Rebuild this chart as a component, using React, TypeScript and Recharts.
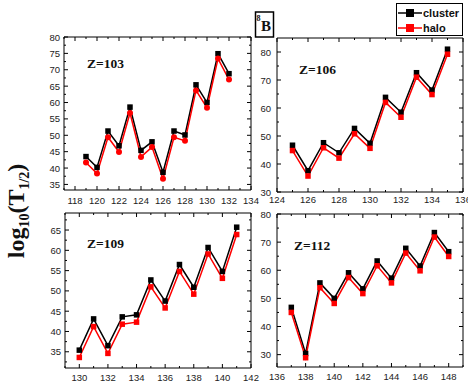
import React from 'react'
import { LineChart, Line, XAxis, YAxis, Legend } from 'recharts'

// neutron number A-Z per panel, log10(T1/2) for cluster and halo models
const nZ103 = [119, 120, 121, 122, 123, 124, 125, 126, 127, 128, 129, 130, 131, 132]
const clusterZ103 = [43.5, 40.2, 51.3, 46.8, 58.6, 45.4, 48.0, 38.7, 51.3, 50.1, 65.4, 60.0, 74.9, 68.8]
const haloZ103 = [41.7, 38.3, 49.4, 44.9, 56.8, 43.4, 46.4, 36.7, 49.4, 48.3, 63.7, 58.4, 73.4, 67.0]

const nZ106 = [125, 126, 127, 128, 129, 130, 131, 132, 133, 134, 135]
const clusterZ106 = [46.7, 37.6, 47.6, 44.0, 52.7, 47.4, 63.8, 58.5, 72.6, 66.4, 81.0]
const haloZ106 = [44.8, 35.7, 45.8, 42.1, 50.8, 45.6, 62.0, 56.7, 71.0, 64.8, 79.2]

const nZ109 = [130, 131, 132, 133, 134, 135, 136, 137, 138, 139, 140, 141]
const clusterZ109 = [35.4, 43.1, 36.5, 43.6, 44.1, 52.7, 47.5, 56.5, 50.9, 60.7, 54.8, 65.7]
const haloZ109 = [33.6, 41.2, 34.6, 41.8, 42.3, 51.0, 45.8, 54.8, 49.2, 59.1, 53.1, 63.9]

const nZ112 = [137, 138, 139, 140, 141, 142, 143, 144, 145, 146, 147, 148]
const clusterZ112 = [46.8, 30.4, 55.5, 50.0, 59.1, 53.4, 63.3, 57.2, 67.8, 61.5, 73.4, 66.6]
const haloZ112 = [45.0, 28.9, 53.8, 48.2, 57.4, 51.7, 61.6, 55.5, 66.1, 59.8, 71.8, 64.9]

// ticks
const xTicks103 = [117, 118, 119, 120, 121, 122, 123, 124, 125, 126, 127, 128, 129, 130, 131, 132, 133, 134]
const xLabels103 = [118, 120, 122, 124, 126, 128, 130, 132, 134]
const yTicks103 = [35, 37.5, 40, 42.5, 45, 47.5, 50, 52.5, 55, 57.5, 60, 62.5, 65, 67.5, 70, 72.5, 75, 77.5, 80]
const yLabels103 = [35, 40, 45, 50, 55, 60, 65, 70, 75, 80]

const xTicks106 = [124, 125, 126, 127, 128, 129, 130, 131, 132, 133, 134, 135, 136]
const xLabels106 = [124, 126, 128, 130, 132, 134, 136]
const yTicks106 = [30, 35, 40, 45, 50, 55, 60, 65, 70, 75, 80]
const yLabels106 = [30, 40, 50, 60, 70, 80]

const xTicks109 = [129, 130, 131, 132, 133, 134, 135, 136, 137, 138, 139, 140, 141, 142]
const xLabels109 = [130, 132, 134, 136, 138, 140, 142]
const yTicks109 = [32.5, 35, 37.5, 40, 42.5, 45, 47.5, 50, 52.5, 55, 57.5, 60, 62.5, 65, 67.5]
const yLabels109 = [35, 40, 45, 50, 55, 60, 65]

const xTicks112 = [136, 137, 138, 139, 140, 141, 142, 143, 144, 145, 146, 147, 148, 149]
const xLabels112 = [136, 138, 140, 142, 144, 146, 148]
const yTicks112 = [30, 35, 40, 45, 50, 55, 60, 65, 70, 75, 80]
const yLabels112 = [30, 40, 50, 60, 70, 80]

const W = 468
const H = 387

const tickFont = {
  fontFamily: '"Liberation Sans", Arial, sans-serif',
  fontSize: 9.5,
  fill: '#222',
}

const has = (list: number[], v: number) => list.some(t => Math.abs(t - v) < 1e-6)

function makeTick(side: 'bottom' | 'top' | 'left' | 'right', labels: number[], gap: number) {
  return (props: any) => {
    const { x, y, payload } = props
    const major = has(labels, payload.value)
    const len = major ? 4 : 2
    let line
    if (side === 'bottom') line = <line x1={x} x2={x} y1={y} y2={y - len} stroke="#000" />
    else if (side === 'top') line = <line x1={x} x2={x} y1={y} y2={y + len} stroke="#000" />
    else if (side === 'left') line = <line x1={x} x2={x + len} y1={y} y2={y} stroke="#000" />
    else line = <line x1={x} x2={x - len} y1={y} y2={y} stroke="#000" />
    return (
      <g>
        {line}
        {major && side === 'bottom' && (
          <text x={x} y={y + gap} textAnchor="middle" dominantBaseline="central" {...tickFont}>{payload.value}</text>
        )}
        {major && side === 'left' && (
          <text x={x - gap} y={y} textAnchor="end" dominantBaseline="central" {...tickFont}>{payload.value}</text>
        )}
      </g>
    )
  }
}

const squareDot = (color: string, s: number) => (props: any) => (
  <rect key={`sq-${props.index}`} x={props.cx - s / 2} y={props.cy - s / 2} width={s} height={s} fill={color} />
)

function LegendBox({ payload }: any) {
  const items = (payload || []).filter((p: any) => p.type !== 'none')
  return (
    <div style={{
      width: 67, height: 33, border: '1px solid #000', boxSizing: 'border-box', background: '#fff',
      fontFamily: '"Liberation Sans", Arial, sans-serif', fontWeight: 'bold', fontSize: 11, color: '#111',
      paddingTop: 1,
    }}>
      {items.map((p: any) => (
        <div key={p.value} style={{ display: 'flex', alignItems: 'center', height: 15.5 }}>
          <svg width={26} height={12} style={{ display: 'block' }}>
            <line x1={1} x2={25} y1={6} y2={6} stroke={p.color} strokeWidth={1.5} />
            <rect x={9} y={2} width={8} height={8} fill={p.color} />
          </svg>
          <span>{p.value}</span>
        </div>
      ))}
    </div>
  )
}

interface PanelProps {
  n: number[]
  cluster: number[]
  halo: number[]
  xDomain: [number, number]
  yDomain: [number, number]
  xTicks: number[]
  xLabels: number[]
  yTicks: number[]
  yLabels: number[]
  box: { left: number; right: number; top: number; bottom: number }
  xGap: number
  yGap: number
  haloCircle?: boolean
  legend?: boolean
}

function Panel(p: PanelProps) {
  const data = p.n.map((a, i) => ({ n: a, cluster: p.cluster[i], halo: p.halo[i] }))
  // axes are 1px thick, so the margin stops one pixel short of the plot box
  const margin = { left: p.box.left - 1, top: p.box.top - 1, right: W - p.box.right - 1, bottom: H - p.box.bottom - 1 }
  return (
    <div style={{ position: 'absolute', left: 0, top: 0 }}>
      <LineChart width={W} height={H} data={data} margin={margin}>
        <XAxis dataKey="n" type="number" domain={p.xDomain} allowDataOverflow ticks={p.xTicks} interval={0}
          height={1} tickSize={0} tickMargin={0} tickLine={false} axisLine={{ stroke: '#000' }}
          tick={makeTick('bottom', p.xLabels, p.xGap)} />
        <XAxis xAxisId="top" orientation="top" dataKey="n" type="number" domain={p.xDomain} allowDataOverflow
          ticks={p.xTicks} interval={0} height={1} tickSize={0} tickMargin={0} tickLine={false}
          axisLine={{ stroke: '#000' }} tick={makeTick('top', p.xLabels, 0)} />
        <YAxis type="number" domain={p.yDomain} allowDataOverflow ticks={p.yTicks} interval={0} width={1}
          tickSize={0} tickMargin={0} tickLine={false} axisLine={{ stroke: '#000' }}
          tick={makeTick('left', p.yLabels, p.yGap)} />
        <YAxis yAxisId="right" orientation="right" type="number" domain={p.yDomain} allowDataOverflow
          ticks={p.yTicks} interval={0} width={1} tickSize={0} tickMargin={0} tickLine={false}
          axisLine={{ stroke: '#000' }} tick={makeTick('right', p.yLabels, 0)} />
        <Line xAxisId="top" yAxisId="right" dataKey="cluster" stroke="none" dot={false} activeDot={false}
          legendType="none" isAnimationActive={false} />
        <Line dataKey="cluster" name="cluster" stroke="#000" strokeWidth={1.5} dot={squareDot('#000', 5.5)}
          activeDot={false} isAnimationActive={false} />
        <Line dataKey="halo" name="halo" stroke="#ff0000" strokeWidth={1.5}
          dot={p.haloCircle ? { r: 3, fill: '#ff0000', stroke: '#ff0000', strokeWidth: 0 } : squareDot('#ff0000', 5.5)}
          activeDot={false} isAnimationActive={false} />
        {p.legend && (
          <Legend layout="vertical" align="center" verticalAlign="middle" content={<LegendBox />}
            wrapperStyle={{ position: 'absolute', left: 396, top: 3, width: 67, height: 33 }} />
        )}
      </LineChart>
    </div>
  )
}

const serif = '"Liberation Serif", "Times New Roman", serif'

export default function App() {
  return (
    <div style={{ position: 'absolute', left: 0, top: 0, width: W, height: H, background: '#fff', overflow: 'hidden' }}>
      <Panel n={nZ103} cluster={clusterZ103} halo={haloZ103} xDomain={[117, 134]} yDomain={[33.3, 80]}
        xTicks={xTicks103} xLabels={xLabels103} yTicks={yTicks103} yLabels={yLabels103}
        box={{ left: 64, right: 251, top: 37, bottom: 190 }} xGap={10} yGap={4} haloCircle />
      <Panel n={nZ106} cluster={clusterZ106} halo={haloZ106} xDomain={[124, 136]} yDomain={[30, 85]}
        xTicks={xTicks106} xLabels={xLabels106} yTicks={yTicks106} yLabels={yLabels106}
        box={{ left: 277, right: 463, top: 38, bottom: 192 }} xGap={7} yGap={6} legend />
      <Panel n={nZ109} cluster={clusterZ109} halo={haloZ109} xDomain={[129, 142]} yDomain={[31, 69.2]}
        xTicks={xTicks109} xLabels={xLabels109} yTicks={yTicks109} yLabels={yLabels109}
        box={{ left: 65, right: 251, top: 213, bottom: 368 }} xGap={9} yGap={4} />
      <Panel n={nZ112} cluster={clusterZ112} halo={haloZ112} xDomain={[136, 149]} yDomain={[25.6, 80]}
        xTicks={xTicks112} xLabels={xLabels112} yTicks={yTicks112} yLabels={yLabels112}
        box={{ left: 277, right: 463, top: 214, bottom: 367 }} xGap={9} yGap={6} />
      <svg width={W} height={H} style={{ position: 'absolute', left: 0, top: 0, pointerEvents: 'none' }}>
        <g fontFamily={serif} fontWeight="bold" fontSize={13.5} fill="#111">
          <text x={87} y={68}>Z=103</text>
          <text x={299} y={74}>Z=106</text>
          <text x={87} y={248}>Z=109</text>
          <text x={294} y={250}>Z=112</text>
        </g>
        <text transform="translate(24,211) rotate(-90)" textAnchor="middle" fontFamily={serif}
          fontWeight="bold" fontSize={24} fill="#111">
          log<tspan fontSize={14} dy={5}>10</tspan><tspan dy={-5}>(T</tspan><tspan fontSize={14} dy={5}>1/2</tspan><tspan dy={-5}>)</tspan>
        </text>
        <rect x={255.5} y={12} width={18} height={25} fill="#fff" stroke="#000" strokeWidth={1.5} />
        <text x={256.5} y={21} fontFamily={serif} fontWeight="bold" fontSize={8} fill="#111">8</text>
        <text x={261} y={31} fontFamily={serif} fontWeight="bold" fontSize={15} fill="#111">B</text>
      </svg>
    </div>
  )
}
